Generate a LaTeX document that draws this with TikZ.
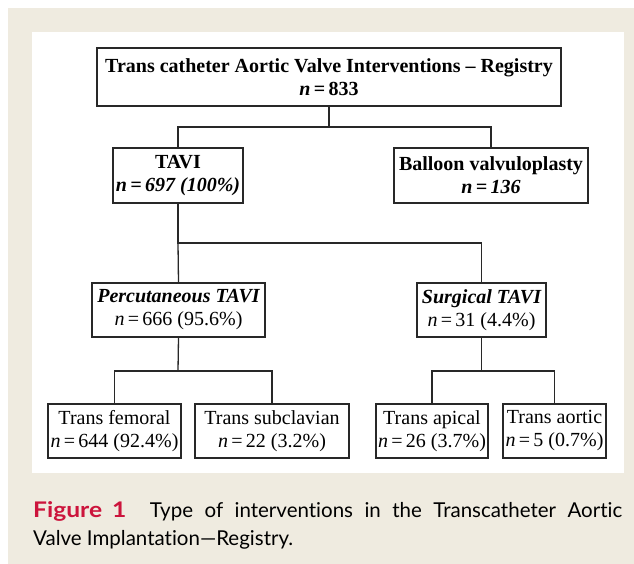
\documentclass[tikz,border=0pt]{standalone}
\usepackage{fontspec}
\setmainfont{Liberation Serif}
\newfontfamily\capfont[Ligatures=NoCommon]{Lato}
\definecolor{beige}{RGB}{239,235,224}
\definecolor{capred}{RGB}{204,20,60}
\definecolor{linecol}{RGB}{40,40,40}
\begin{document}
\begin{tikzpicture}[x=1pt,y=-1pt,
  box/.style={draw=linecol, line width=1.3pt, fill=white, inner sep=0pt, align=center,
    font=\fontsize{20}{23}\selectfont, minimum height=55pt},
  conn/.style={draw=linecol, line width=1.3pt},
  captext/.style={anchor=base west, inner sep=0pt, font=\capfont\fontsize{20.5}{28}\selectfont}]
\path[use as bounding box] (0,0) rectangle (634,564);
\fill[beige] (8,8) rectangle (634,564);
\fill[white] (32,32) rectangle (624,473);

\node[box, line width=2pt, minimum width=464pt, minimum height=58pt] (top) at (329,77)
  {{\bfseries Trans catheter Aortic Valve Interventions -- Registry}\\{\bfseries\itshape n}{\bfseries\,=\,833}};
\node[box, minimum width=130pt] (tavi) at (178,175.5)
  {{\bfseries TAVI}\\{\bfseries\itshape n\,=\,697 (100\%)}};
\node[box, minimum width=194pt] (balloon) at (491,175.5)
  {{\bfseries Balloon valvuloplasty}\\{\bfseries\itshape n\,=\,136}};
\node[box, minimum width=173pt, minimum height=54pt] (perc) at (178.5,310)
  {{\bfseries\itshape Percutaneous TAVI}\\{\itshape n}\,=\,666 (95.6\%)};
\node[box, minimum width=129pt, minimum height=54pt] (surg) at (481.5,310)
  {{\bfseries\itshape Surgical TAVI}\\{\itshape n}\,=\,31 (4.4\%)};
\node[box, minimum width=133pt, minimum height=54pt] (fem) at (114.5,431)
  {Trans femoral\\{\itshape n}\,=\,644 (92.4\%)};
\node[box, minimum width=154pt, minimum height=54pt] (subc) at (272,431)
  {Trans subclavian\\{\itshape n}\,=\,22 (3.2\%)};
\node[box, minimum width=112pt, minimum height=54pt] (apic) at (432,431)
  {Trans apical\\{\itshape n}\,=\,26 (3.7\%)};
\node[box, minimum width=103pt, minimum height=54pt] (aort) at (554.5,431)
  {Trans aortic\\{\itshape n}\,=\,5 (0.7\%)};

\coordinate (j1) at (329,127);
\coordinate (j2) at (178,243);
\coordinate (j3) at (178,371);
\coordinate (j4) at (481.5,371);
\draw[conn] (top.south) -- (j1);
\draw[conn] (tavi.north) |- (j1) -| (balloon.north);
\draw[conn] (tavi.south) -- (j2) -| (surg.north);
\draw[conn] (j2) -- (perc.north);
\draw[conn] (perc.south) -- (j3);
\draw[conn] (fem.north) |- (j3) -| (subc.north);
\draw[conn] (surg.south) -- (j4);
\draw[conn] (apic.north) |- (j4) -| (aort.north);

\node[captext] (cap1) at (33,517)
  {\makebox[589pt][s]{{\color{capred}\bfseries\scalebox{1.2}[1.05]{Figure}\hspace{10pt}\scalebox{1.2}[1.05]{1}}\hspace{12pt} Type of interventions in the Transcatheter Aortic}};
\node[captext] (cap2) at (33,545) {Valve Implantation\textemdash Registry.};
\end{tikzpicture}
\end{document}
